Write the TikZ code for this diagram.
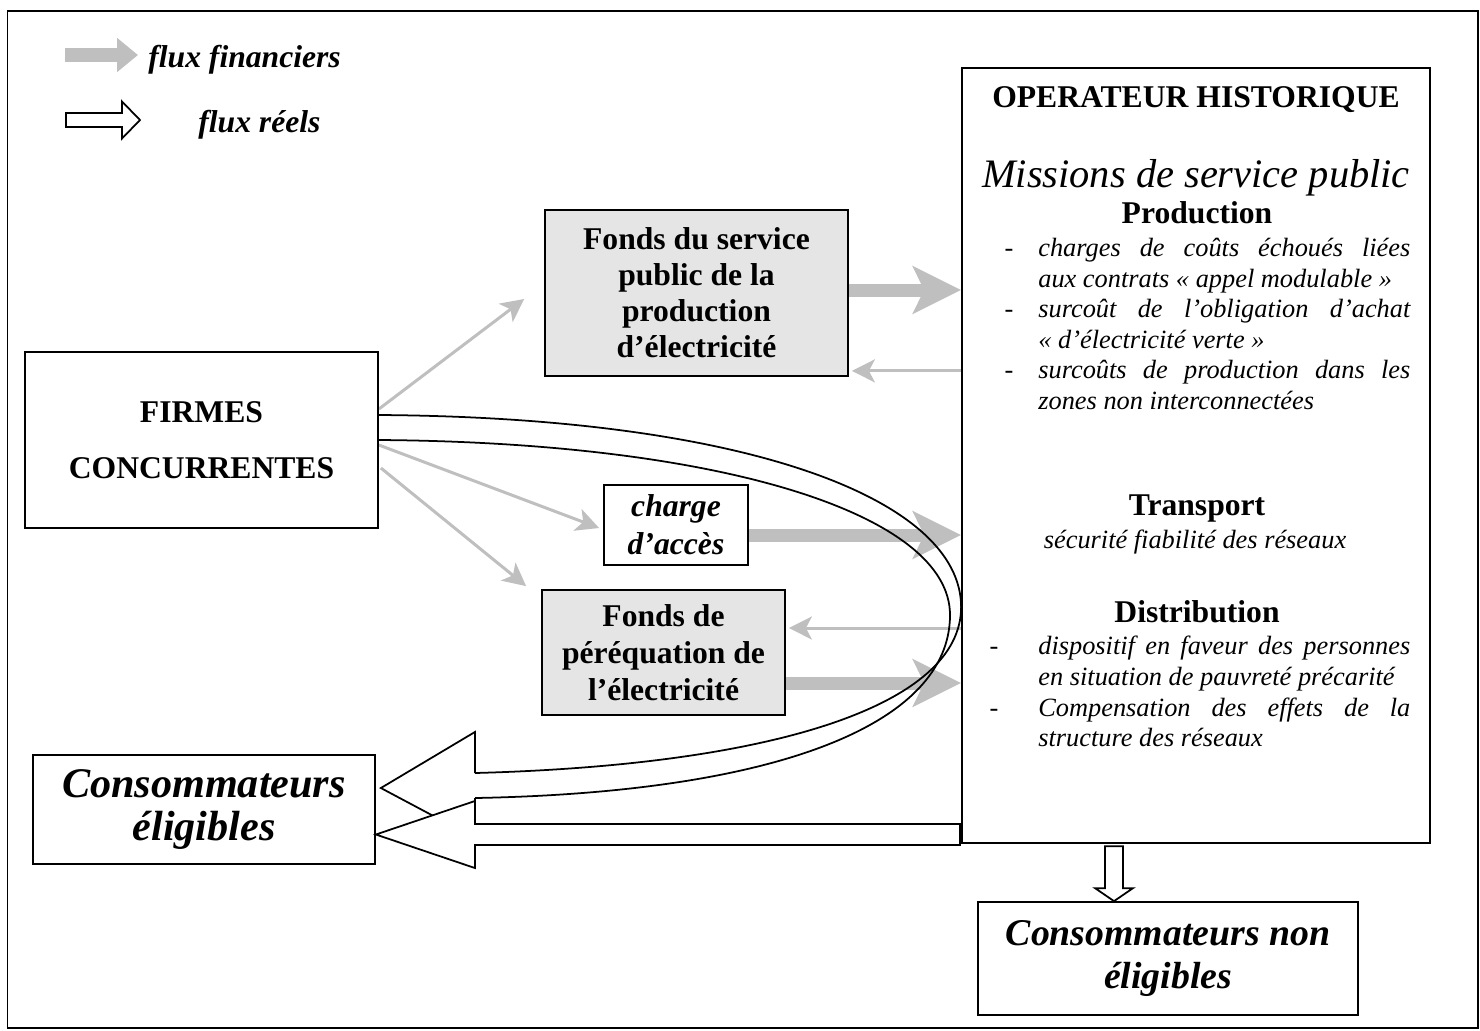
\documentclass[tikz,border=0pt]{standalone}
\usepackage{fontspec}
\setmainfont{Liberation Serif}
\usetikzlibrary{positioning, arrows.meta, calc, backgrounds}

\begin{document}
\begin{tikzpicture}[
  box/.style={draw, line width=1pt, align=center, inner sep=0pt,
              font=\fontsize{18}{20.5}\selectfont\bfseries},
  fundbox/.style={box, fill=black!10},
  bigbox/.style={draw, line width=1pt, align=center, inner sep=0pt,
                 font=\fontsize{22}{24}\selectfont\bfseries\itshape},
  head/.style={inner sep=0pt, font=\fontsize{18}{20.5}\selectfont\bfseries},
  itemlist/.style={text width=7.44cm, align=justify, inner sep=0pt,
                   font=\fontsize{15}{17.4}\selectfont\itshape},
  legtxt/.style={inner sep=0pt, font=\fontsize{18}{20}\selectfont\bfseries\itshape},
  finthick/.style={-{Stealth[length=0.96cm, width=0.94cm, inset=0.22cm]}, line width=0.26cm, draw=black!25},
  finthin/.style={-{Stealth[length=0.46cm, width=0.46cm, inset=0.12cm]}, line width=0.06cm, draw=black!25},
  hollow/.style={draw, fill=white, line width=1pt, line join=miter},
  loopline/.style={line width=1pt},
]
\useasboundingbox (0,0) rectangle (29.6,-20.6);
\draw[line width=1pt] (0.15,-0.22) rectangle (29.56,-20.56);

% --- Legend ---
\node[legtxt, anchor=west] (lfin) at (2.96,-1.2) {flux financiers};
\node[legtxt, anchor=west] (lreel) at (3.96,-2.5) {flux réels};
\coordinate (lfintip) at (2.76,-1.1);
\draw[line width=0.28cm, draw=black!25, -{Triangle[length=0.42cm, width=0.66cm]}]
  (1.3,-1.1) -- (lfintip);
\coordinate (lreeltip) at (2.8,-2.4);
\draw[hollow] (lreeltip) -- ++(-0.36,0.37) -- ++(0,-0.23) -- ++(-1.12,0) -- ++(0,-0.28)
  -- ++(1.12,0) -- ++(0,-0.23) -- cycle;

% --- Main nodes ---
\node[box, minimum width=9.36cm, minimum height=15.5cm] (oper) at (23.92,-9.11) {};
\node[fundbox, minimum width=6.06cm, minimum height=3.32cm] (fsp) at (13.93,-5.86)
  {Fonds du service\\public de la\\production\\d’électricité};
\node[box, minimum width=7.06cm, minimum height=3.52cm] (firmes) at (4.03,-8.8)
  {FIRMES\\[11pt]CONCURRENTES};
\node[box, font=\fontsize{18}{21.6}\selectfont\bfseries\itshape,
      minimum width=2.88cm, minimum height=1.6cm] (charge) at (13.52,-10.5) {charge\\d’accès};
\node[fundbox, font=\fontsize{18}{21}\selectfont\bfseries,
      minimum width=4.86cm, minimum height=2.5cm] (fpe) at (13.27,-13.05)
  {Fonds de\\péréquation de\\l’électricité};
\node[bigbox, font=\fontsize{24}{24}\selectfont\bfseries\itshape,
      minimum width=6.84cm, minimum height=2.18cm] (celig) at (4.08,-16.19)
  {Consommateurs\\éligibles};
\node[bigbox, font=\fontsize{21.5}{24}\selectfont\bfseries\itshape,
      minimum width=7.6cm, minimum height=2.26cm] (cnon) at (23.36,-19.17)
  {Consommateurs non\\éligibles};

% --- Text of the operator box ---
\node[head] (ophist) at (23.92,-2.0) {OPERATEUR HISTORIQUE};
\node[inner sep=0pt, font=\fontsize{23}{26}\selectfont\itshape] (missions) at (23.92,-3.56)
  {Missions de service public};
\node[head] (prod) at (23.94,-4.26) {Production};
\node[itemlist, anchor=north west] (prodlist) at (20.76,-4.76)
  {\leavevmode\llap{-\hspace{0.5cm}}charges de coûts échoués liées\linebreak
   aux contrats «~appel modulable~»\par
   \leavevmode\llap{-\hspace{0.5cm}}surcoût de l’obligation d’achat\linebreak
   «~d’électricité verte~»\par
   \leavevmode\llap{-\hspace{0.5cm}}surcoûts de production dans les\linebreak
   zones non interconnectées};
\node[head] (transp) at (23.94,-10.16) {Transport};
\node[inner sep=0pt, font=\fontsize{15}{17.4}\selectfont\itshape] (secu) at (23.9,-10.84)
  {sécurité fiabilité des réseaux};
\node[head] (distr) at (23.94,-12.24) {Distribution};
\node[itemlist, anchor=north west] (distlist) at (20.76,-12.72)
  {\leavevmode\llap{-\hspace{0.8cm}}dispositif en faveur des personnes\linebreak
   en situation de pauvreté précarité\par
   \leavevmode\llap{-\hspace{0.8cm}}Compensation des effets de la\linebreak
   structure des réseaux};

% --- Financial flows and real flow loop (behind the boxes) ---
\begin{scope}[on background layer]
  \draw[finthin] ($(firmes.east)+(0,0.62)$) -- ($(fsp.west)+(-0.4,-0.12)$);
  \draw[finthin] ($(firmes.east)+(0,-0.1)$) -- ($(charge.west)+(-0.08,-0.06)$);
  \draw[finthin] ($(firmes.east)+(0.04,-0.56)$) -- ($(fpe.north west)+(-0.3,0.06)$);

  \coordinate (fa) at ($(fsp.east)+(0,0.06)$);
  \draw[finthick] (fa) -- (fa -| oper.west);
  \coordinate (fb) at ($(fsp.south east)+(0.06,0.12)$);
  \draw[finthin] (fb -| oper.west) -- (fb);
  \coordinate (ca) at ($(charge.east)+(0,-0.2)$);
  \draw[finthick] (ca) -- (ca -| oper.west);
  \coordinate (pa) at ($(fpe.east)+(0.06,0.49)$);
  \draw[finthin] (pa -| oper.west) -- (pa);
  \coordinate (pb) at ($(fpe.east)+(0,-0.61)$);
  \draw[finthick] (pb) -- (pb -| oper.west);

  % loop from the firms round to the eligible consumers
  \coordinate (t1) at ($(celig.east)+(0.1,0.43)$);
  \coordinate (bend) at (oper.west |- 0,-12.14);
  \draw[loopline] ($(firmes.east)+(0,0.5)$) .. controls (15,-8.35) and (19.22,-10) .. (bend)
    .. controls (19.22,-14.1) and (15.5,-15.3) .. ($(t1)+(1.88,0.30)$);
  \draw[loopline] (firmes.east) .. controls (14.5,-8.85) and (19.0,-10.3) .. (19.0,-12.3)
    .. controls (19.0,-14.5) and (15.5,-15.85) .. ($(t1)+(1.88,-0.2)$);
  \draw[hollow] ($(t1)+(1.88,0.30)$) -- ($(t1)+(1.88,1.12)$) -- (t1)
    -- ($(t1)+(1.88,-1.0)$) -- ($(t1)+(1.88,-0.2)$);
\end{scope}

% --- Straight real flows ---
\coordinate (t2) at ($(celig.east)+(0,-0.5)$);
\draw[hollow] (t2) -- ++(1.98,0.67) -- ++(0,-0.46) -- ++(9.7,0) -- ++(0,-0.42)
  -- ++(-9.7,0) -- ++(0,-0.46) -- cycle;

\coordinate (t3) at ($(cnon.north)+(-1.08,0)$);
\draw[hollow] (t3) -- ++(-0.38,0.26) -- ++(0.2,0) -- ++(0,0.84) -- ++(0.36,0)
  -- ++(0,-0.84) -- ++(0.2,0) -- cycle;

\end{tikzpicture}
\end{document}
